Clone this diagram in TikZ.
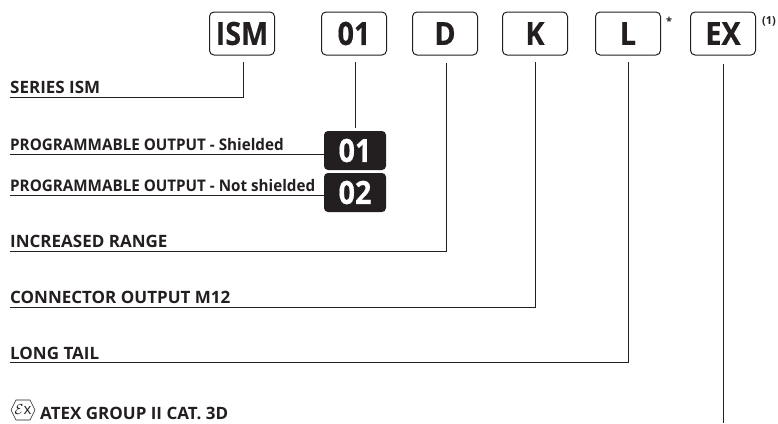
\documentclass[tikz,border=0pt]{standalone}
\usepackage{fontspec}
\setmainfont{Open Sans}[BoldFont={* Bold}]
\definecolor{inkdark}{HTML}{231F20}
\usetikzlibrary{positioning, calc}
\tikzset{
  codebox/.style={draw=inkdark,line width=1pt,rounded corners=4.5pt,minimum width=65pt,minimum height=43pt,inner sep=0pt,text=inkdark,font=\fontsize{32}{32}\selectfont\bfseries\addfontfeatures{FakeStretch=0.9,FakeBold=0.4}},
  darkbox/.style={fill=inkdark,rounded corners=4pt,minimum width=62pt,minimum height=39pt,inner sep=0pt,text=white,font=\fontsize{32}{32}\selectfont\bfseries\addfontfeatures{FakeStretch=0.9,FakeBold=0.4}},
  lead/.style={draw=inkdark,line width=0.9pt},
  caption/.style={anchor=base west,inner sep=0pt,text=inkdark,font=\fontsize{17}{18}\selectfont\bfseries},
  narrowcaption/.style={caption,font=\fontsize{16}{17}\selectfont\bfseries\addfontfeatures{FakeStretch=0.95}},
  mark note/.style={anchor=west,inner sep=0pt,text=inkdark,font=\fontsize{11}{12}\selectfont\bfseries}
}
\begin{document}
\begin{tikzpicture}[x=1pt,y=-1pt]
    \useasboundingbox (0,0) rectangle (778,423);

    \node[codebox] (ism) at (242,33.5) {ISM};
    \node[codebox] (ones) at (354,33.5) {01};
    \node[codebox] (dee) at (445,33.5) {D};
    \node[codebox] (kay) at (535,33.5) {K};
    \node[codebox] (ell) at (628,33.5) {L};
    \node[codebox] (ex) at (723,33.5) {EX};

    \node[mark note] (star) at (666,21) {*};
    \node[mark note] (one) at (762,21) {(1)};

    \node[darkbox] (shielded) at (355,150.5) {01};
    \node[darkbox] (open) at (355,192.5) {02};

    \node[caption] (series) at (10,93) {SERIES ISM};
    \node[narrowcaption] (prog) at (10,150) {PROGRAMMABLE OUTPUT - Shielded};
    \node[narrowcaption] (notprog) at (10,191) {PROGRAMMABLE OUTPUT - Not shielded};
    \node[caption] (range) at (10,247) {INCREASED RANGE};
    \node[caption] (output) at (10,303) {CONNECTOR OUTPUT M12};
    \node[caption] (tail) at (10,359) {LONG TAIL};
    \node[caption] (atex) at (40,419.5) {ATEX GROUP II CAT. 3D};

    % hexagon of the atex mark
    \coordinate (hex) at (23,410);
    \draw[lead,line width=0.6pt] (hex) ++(-12,0) -- ++(5,-10) -- ++(14,0) -- ++(5,10) -- ++(-5,10) -- ++(-14,0) -- cycle;
    \node[inner sep=0pt,text=inkdark,font=\fontsize{15}{15}\selectfont] (exmark) at (hex) {$\mathcal{E}$x};

    \coordinate (ismtop) at (243,62);
    \coordinate (onestop) at (355,62);
    \coordinate (onesend) at (355,128);
    \coordinate (deetop) at (446,63);
    \coordinate (kaytop) at (535,62);
    \coordinate (elltop) at (628,62);
    \coordinate (extop) at (723,64);
    \coordinate (exend) at (723,423);
    \coordinate (ismend) at (10,97);
    \coordinate (progend) at (10,154);
    \coordinate (notend) at (10,195);
    \coordinate (rangeend) at (10,251);
    \coordinate (outend) at (10,307);
    \coordinate (tailend) at (10,362);

    \draw[lead] (ismtop) |- (ismend);
    \draw[lead] (onestop) -- (onesend);
    \draw[lead] (progend) -- (shielded.west |- progend);
    \draw[lead] (notend) -- (open.west |- notend);
    \draw[lead] (deetop) |- (rangeend);
    \draw[lead] (kaytop) |- (outend);
    \draw[lead] (elltop) |- (tailend);
    \draw[lead] (extop) -- (exend);
  \end{tikzpicture}
\end{document}
